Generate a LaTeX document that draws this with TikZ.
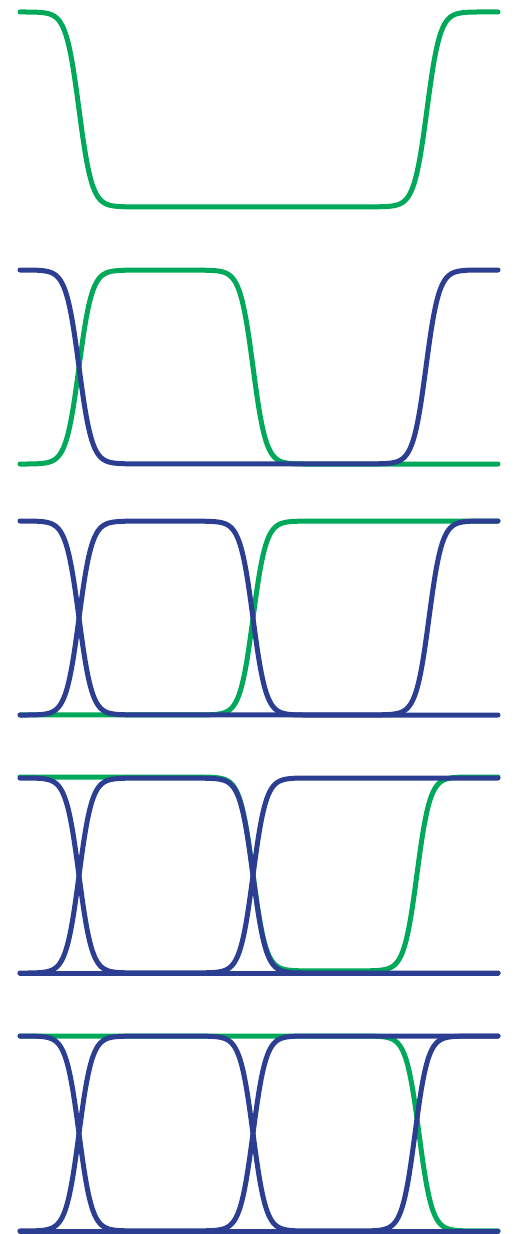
\documentclass[tikz,border=0pt]{standalone}
\usepackage{xcolor}
\usepackage{tikz}
\definecolor{eyegreen}{RGB}{0,168,90}
\definecolor{eyeblue}{RGB}{44,62,145}

\begin{document}
\begin{tikzpicture}[x=0.03cm, y=-0.03cm, line cap=round, line join=round,
    declare function={
        st(\uu,\tt)=1/(1+exp(-max(-8,min(8,(\uu-\tt)/6.5))));
        wave(\uu,\ba,\bb,\bc,\bd,\tz)=\ba+(\bb-\ba)*st(\uu,79)+(\bc-\bb)*st(\uu,253)+(\bd-\bc)*st(\uu,\tz);
    }]
        \tikzstyle{greenwave} = [eyegreen, line width=0.15cm]
        \tikzstyle{bluewave} = [eyeblue, line width=0.15cm]
        \tikzstyle{trace} = [domain=20:498, samples=320, smooth]

        \useasboundingbox (0,0) rectangle (516,1234);

        % Panel 1: one bit pattern
        \draw [greenwave] plot[trace] (\x, {207-195*wave(\x,1,0,0,1,427)});

        % Panel 2
        \draw [greenwave] plot[trace] (\x, {464-194*wave(\x,0,1,0,0,426)});
        \draw [bluewave] plot[trace] (\x, {464-194*wave(\x,1,0,0,1,426)});

        % Panel 3
        \draw [greenwave] plot[trace] (\x, {715-194*wave(\x,0,0,1,1,429)});
        \draw [bluewave] plot[trace] (\x, {715-194*wave(\x,1,0,0,1,429)});
        \draw [bluewave] plot[trace] (\x, {715-194*wave(\x,0,1,0,0,429)});

        % Panel 4
        \draw [greenwave] plot[trace] (\x, {971-194*wave(\x,1,1,0,1,417)});
        \draw [bluewave] plot[trace] (\x, {973-195*wave(\x,1,0,1,1,417)});
        \draw [bluewave] plot[trace] (\x, {973-195*wave(\x,0,1,0,0,417)});
        \draw [bluewave] plot[trace] (\x, {973-195*wave(\x,0,0,0,0,417)});

        % Panel 5
        \draw [greenwave] plot[trace] (\x, {1231-195*wave(\x,1,1,1,0,419)});
        \draw [bluewave] plot[trace] (\x, {1231-195*wave(\x,1,0,1,1,415)});
        \draw [bluewave] plot[trace] (\x, {1231-195*wave(\x,0,1,0,1,415)});
        \draw [bluewave] plot[trace] (\x, {1231-195*wave(\x,0,0,0,0,415)});
\end{tikzpicture}
\end{document}
